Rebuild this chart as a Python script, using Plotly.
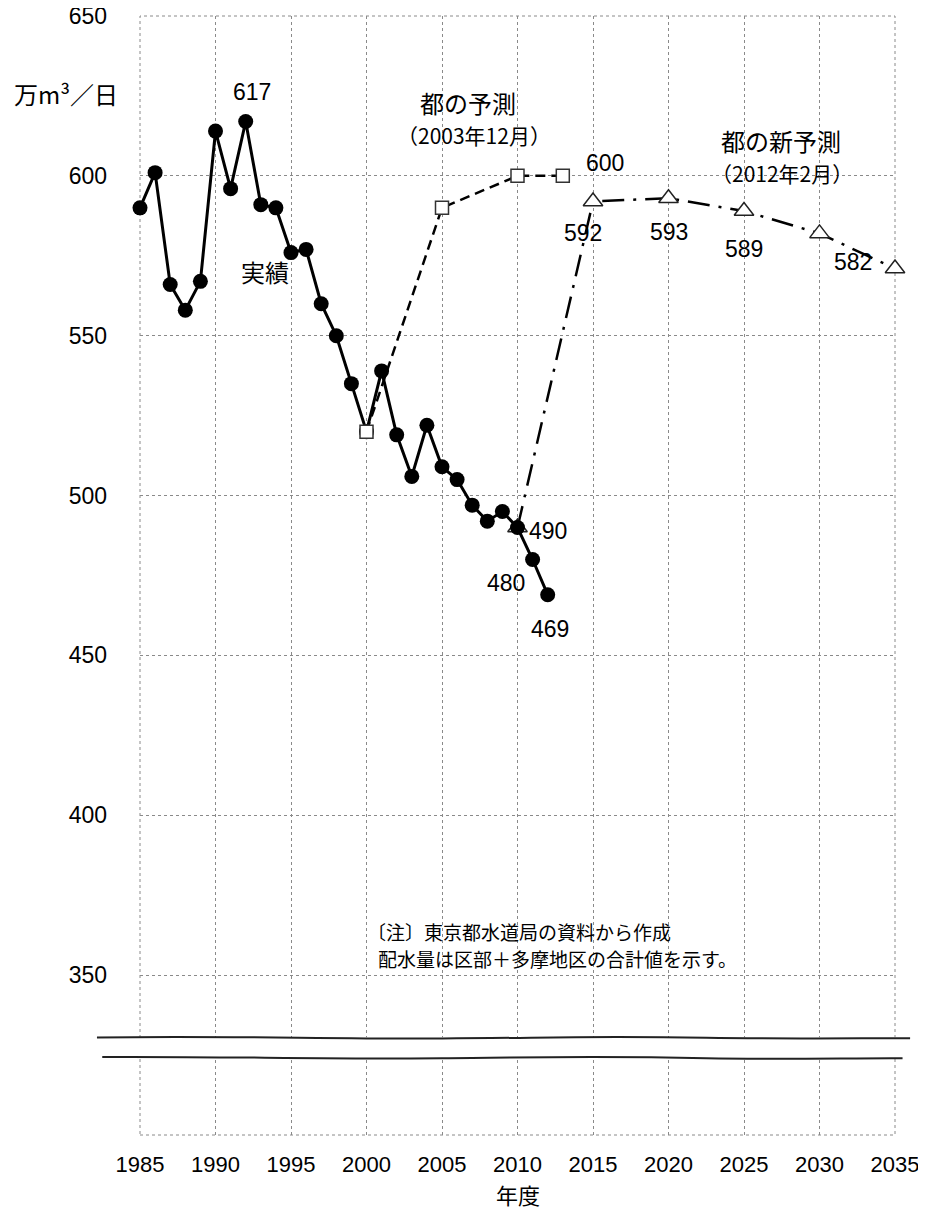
import plotly.graph_objects as go

# ---------------- data ----------------
actual_years = list(range(1985, 2013))
actual_values = [590, 601, 566, 558, 567, 614, 596, 617, 591, 590,
                 576, 577, 560, 550, 535, 520, 539, 519, 506, 522,
                 509, 505, 497, 492, 495, 490, 480, 469]

forecast2003_years = [2000, 2005, 2010, 2013]
forecast2003_values = [520, 590, 600, 600]

forecast2012_years = [2010, 2015, 2020, 2025, 2030, 2035]
forecast2012_values = [490, 592, 593, 589, 582, 571]

x_tickvals = [1985, 1990, 1995, 2000, 2005, 2010, 2015, 2020, 2025, 2030, 2035]
y_tickvals = [300, 350, 400, 450, 500, 550, 600, 650]
y_ticktext = ["", "350", "400", "450", "500", "550", "600", "650"]

label_years = [1992, 2013, 2015, 2020, 2025, 2030, 2010, 2011, 2012]
label_values = [617, 600, 592, 593, 589, 582, 490, 480, 469]

# ---------------- styling ----------------
NUM_FONT = "Liberation Sans, Arial, sans-serif"
JP_FONT = "Noto Sans CJK JP, sans-serif"
GRID = "#8a8a8a"

fig = go.Figure()

fig.add_trace(go.Scatter(
    x=forecast2012_years, y=forecast2012_values, mode="lines+markers",
    line=dict(color="black", width=2.5, dash="22px,9px,3px,9px"),
    marker=dict(symbol="triangle-up", size=17, color="white",
                line=dict(color="#222222", width=1.5)),
    cliponaxis=False, showlegend=False))

fig.add_trace(go.Scatter(
    x=actual_years, y=actual_values, mode="lines+markers",
    line=dict(color="black", width=3),
    marker=dict(symbol="circle", size=15, color="black"),
    cliponaxis=False, showlegend=False))

fig.add_trace(go.Scatter(
    x=forecast2003_years, y=forecast2003_values, mode="lines+markers",
    line=dict(color="black", width=2.5, dash="10px,6px"),
    marker=dict(symbol="square", size=13, color="white",
                line=dict(color="#333333", width=1.5)),
    cliponaxis=False, showlegend=False))

# value labels (offsets in pixels relative to the data point)
offsets = {1992: (6, 30), 2013: (42, 13), 2015: (-10, -32), 2020: (0, -34),
           2025: (0, -38), 2030: (33, -29), 2010: (30, -3), 2011: (-27, -23),
           2012: (2, -34)}
for yr, val in zip(label_years, label_values):
    dx, dy = offsets[yr]
    fig.add_annotation(x=yr, y=val, text=str(val), showarrow=False,
                       xshift=dx, yshift=dy,
                       font=dict(family=NUM_FONT, size=23, color="black"))

# free text labels
def txt(x, y, s, size, xref="x", yref="y", xanchor="center", family=JP_FONT):
    fig.add_annotation(x=x, y=y, text=s, showarrow=False, xref=xref, yref=yref,
                       xanchor=xanchor, yanchor="middle",
                       font=dict(family=family, size=size, color="black"))

txt(1993.27, 570.0, "実績", 24)
txt(2006.7, 622.8, "都の予測", 24)
txt(2007.1, 612.9, "（2003年12月）", 21)
txt(2027.45, 611.0, "都の新予測", 24)
txt(2027.5, 601.0, "（2012年2月）", 21)
txt(-0.098, 625.9, "万m³／日", 24, xref="paper")
txt(1999.9, 363.5, "〔注〕東京都水道局の資料から作成", 19, xanchor="left")
txt(2000.6, 355.3, "配水量は区部＋多摩地区の合計値を示す。", 19, xanchor="left")
txt(0.5, -0.0525, "年度", 22, xref="paper", yref="paper")

# frame (dotted)
fig.add_shape(type="rect", xref="paper", yref="paper", x0=0, x1=1, y0=0, y1=1,
              line=dict(color=GRID, width=1, dash="dot"), layer="below")

# axis break: white band with two wavy lines
fig.add_shape(type="path", xref="paper", yref="y", layer="above",
              path="M -0.085,324.3 C -0.11,325.5 -0.11,329.5 -0.085,330.6 "
                   "L 1.03,330.6 C 1.045,329.5 1.045,325.5 1.03,324.3 Z",
              fillcolor="white", line=dict(width=0))
fig.add_shape(type="path", xref="paper", yref="y", layer="above",
              path="M -0.057,330.5 C 0.1,331.2 0.25,330.0 0.4,330.2 "
                   "C 0.55,330.4 0.6,331.0 0.75,330.4 C 0.85,330.0 0.95,330.3 1.02,330.3",
              line=dict(color="#222222", width=2))
fig.add_shape(type="path", xref="paper", yref="y", layer="above",
              path="M -0.05,324.4 C 0.1,324.6 0.25,323.7 0.4,324.0 "
                   "C 0.55,324.3 0.6,324.8 0.75,324.0 C 0.85,323.6 0.95,324.1 1.01,324.0",
              line=dict(color="#222222", width=2))

fig.update_xaxes(range=[1985, 2035], tickvals=x_tickvals, showgrid=True,
                 gridcolor=GRID, griddash="dot", gridwidth=1, zeroline=False,
                 showline=False, ticks="", ticklabelstandoff=14,
                 ticklabeloverflow="allow",
                 tickfont=dict(family=NUM_FONT, size=22, color="black"))
fig.update_yaxes(range=[300, 650], tickvals=y_tickvals, ticktext=y_ticktext,
                 showgrid=True, gridcolor=GRID, griddash="dot", gridwidth=1,
                 zeroline=False, showline=False, ticks="", ticklabelstandoff=32,
                 ticklabeloverflow="allow",
                 tickfont=dict(family=NUM_FONT, size=23, color="black"))

# page body has an 8px default margin: plot area spans x 140..895, y 16..1135
fig.update_layout(width=910, height=1202,
                  margin=dict(l=132, r=23, t=8, b=75, autoexpand=False),
                  plot_bgcolor="white", paper_bgcolor="white",
                  showlegend=False)

fig.write_html("out.html")
